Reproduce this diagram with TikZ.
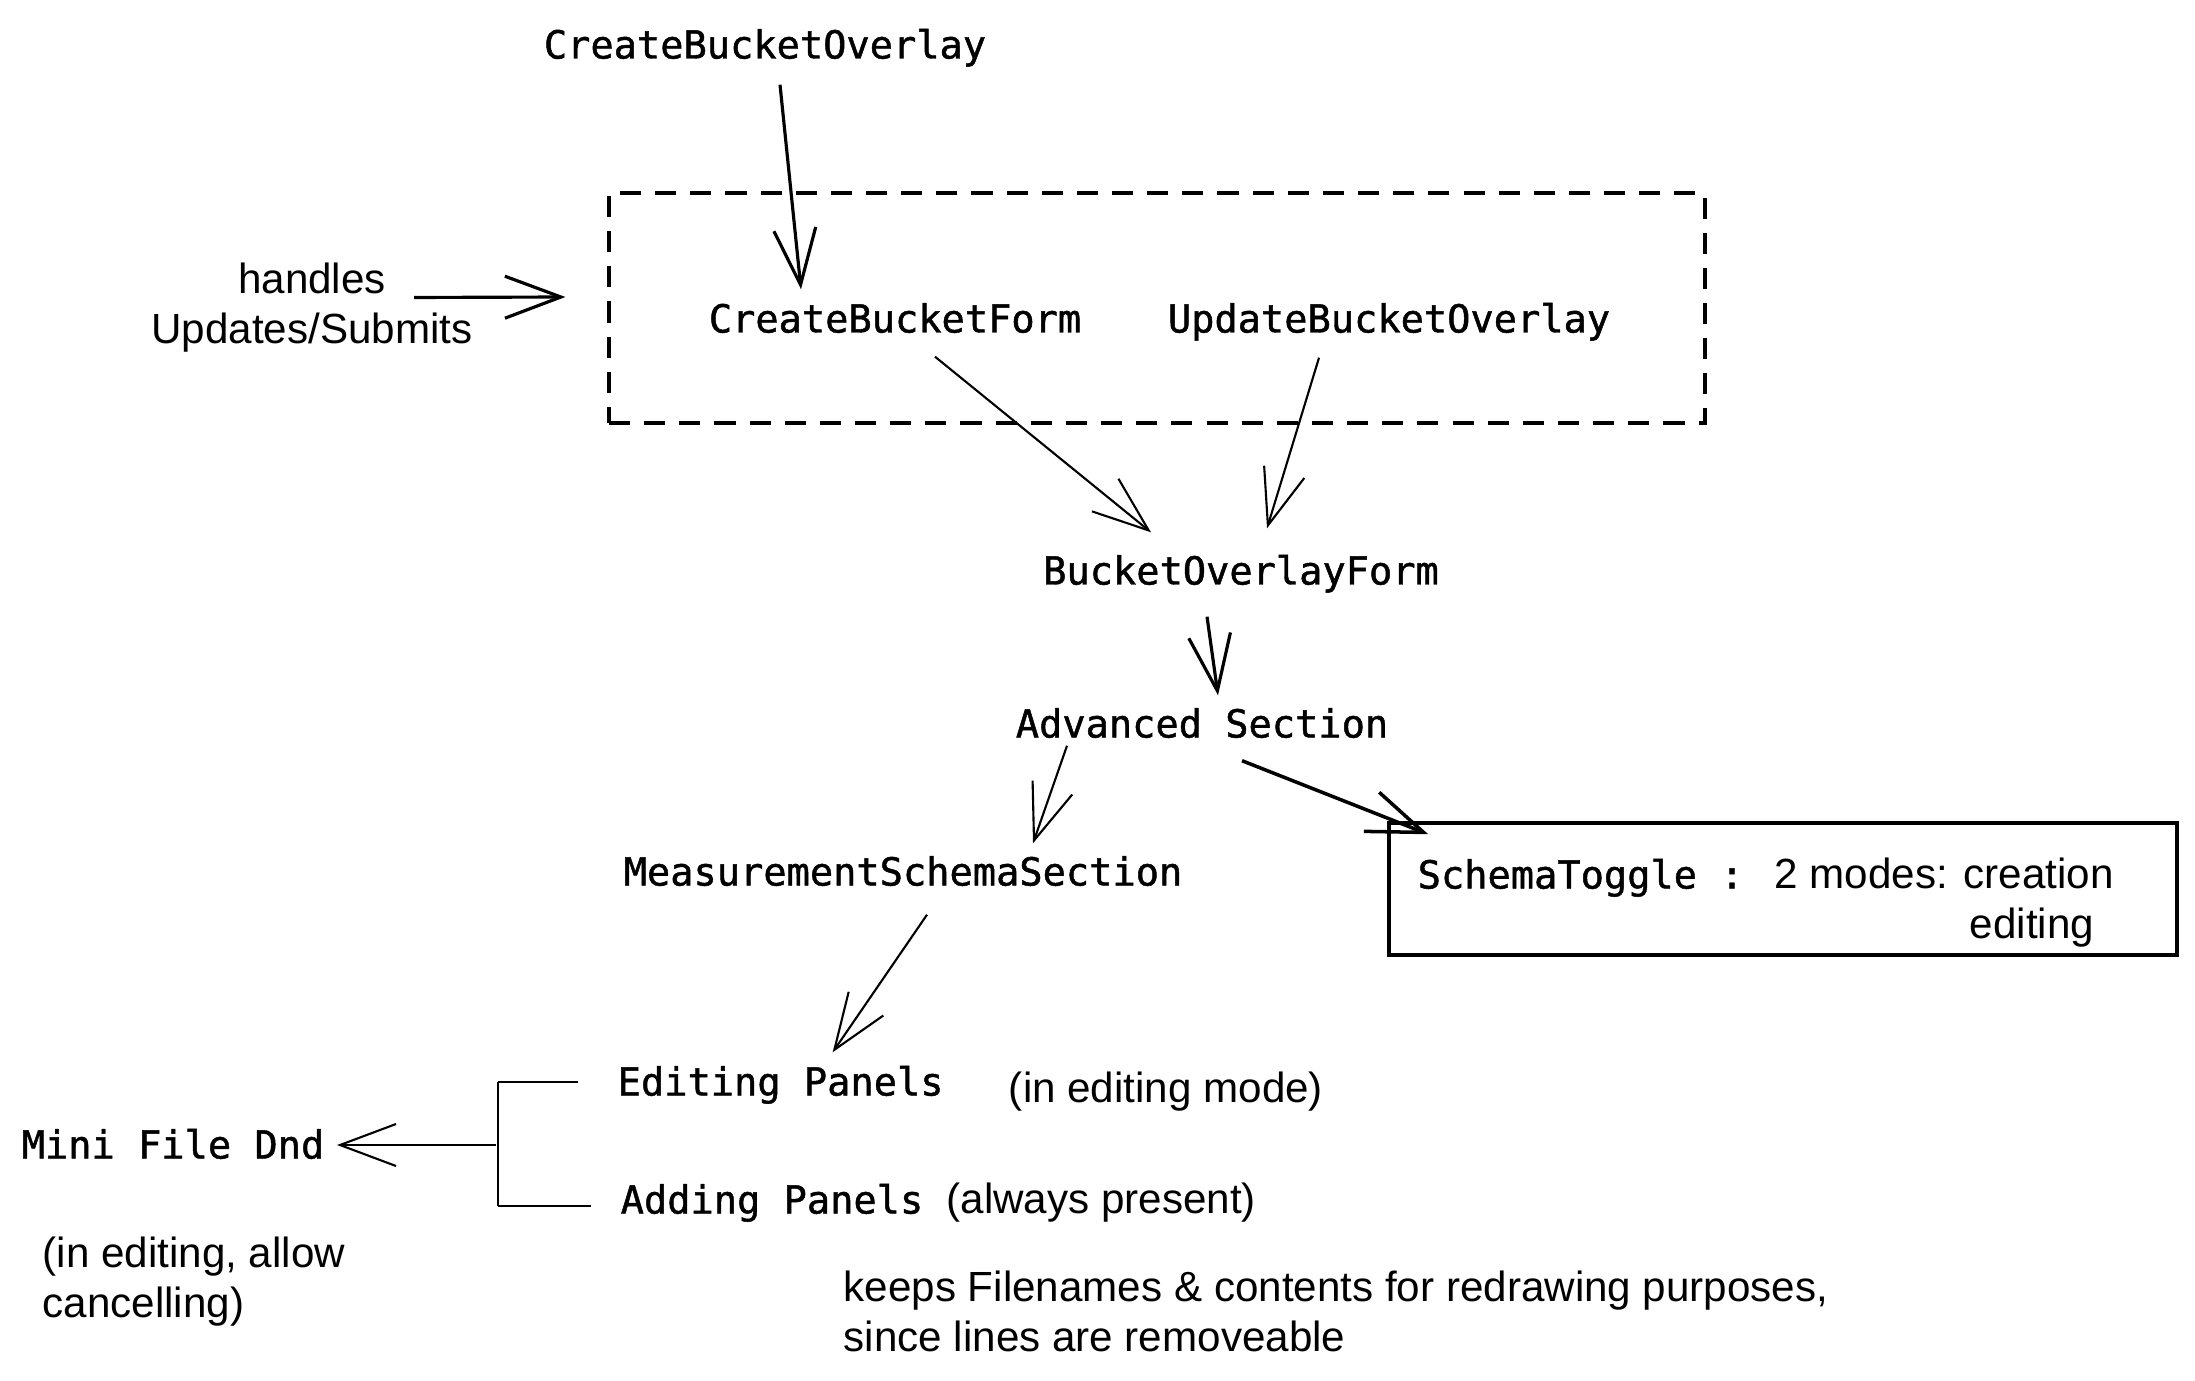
\documentclass[tikz,border=0pt]{standalone}
\usepackage{fontspec}
\usepackage{tikz}
\usetikzlibrary{arrows.meta, positioning}
\newfontfamily\codefnt{DejaVu Sans Mono}[FakeBold=1.2]
\newfontfamily\handfnt{Liberation Sans}
\newcommand{\codetxt}{\codefnt\fontsize{11pt}{13pt}\selectfont}
\newcommand{\handtxt}{\handfnt\fontsize{12pt}{14.2pt}\selectfont}

\begin{document}
\begin{tikzpicture}[
    code/.style={font=\codetxt, inner sep=0pt, text height=0.33cm, text depth=0.06cm},
    note/.style={font=\handtxt, inner sep=0pt},
    arrow/.style={-{Straight Barb[length=5.6mm, width=4.2mm]}, line width=0.6pt},
    group/.style={draw, dash pattern=on 6pt off 4pt, line width=0.9pt, minimum width=10.96cm, minimum height=2.3cm},
    togglebox/.style={draw, line width=1pt, minimum width=7.88cm, minimum height=1.32cm},
    stub/.style={line width=0.6pt}
]
    \useasboundingbox (0,0) rectangle (21.95,-13.81);

    % Overlays and forms
    \node (cbo) [code] at (7.65,-0.45) {CreateBucketOverlay};
    \node (grp) [group] at (11.57,-3.08) {};
    \node (cbf) [code] at (8.95,-3.19) {CreateBucketForm};
    \node (ubo) [code] at (13.89,-3.19) {UpdateBucketOverlay};
    \node (hdl) [note, align=center] at (3.12,-3.075) {handles\\Updates/Submits};
    \node (bof) [code] at (12.41,-5.71) {BucketOverlayForm};
    \node (adv) [code] at (12.02,-7.24) {Advanced Section};
    \node (mss) [code] at (9.03,-8.72) {MeasurementSchemaSection};

    % Schema toggle box
    \node (tog) [togglebox] at (17.83,-8.89) {};
    \node (togtxt) [code, anchor=west] at (14.17,-8.75) {SchemaToggle : \handtxt 2 modes: creation};
    \node (togedit) [note] at (20.32,-9.28) {editing};

    % Panels
    \node (edit) [code, anchor=west] at (6.17,-10.82) {Editing Panels};
    \node (editnote) [note] at (11.66,-10.92) {(in editing mode)};
    \node (add) [code, anchor=west] at (6.20,-12.00) {Adding Panels \handtxt(always present)};
    \node (mini) [code] at (1.73,-11.45) {Mini File Dnd};
    \node (mininote) [note, align=left, anchor=west] at (0.42,-12.82) {(in editing, allow\\cancelling)};
    \node (keeps) [note, align=left, anchor=west] at (8.43,-13.11) {keeps Filenames \& contents for redrawing purposes,\\since lines are removeable};

    % Bracket
    \coordinate (brt) at (4.98,-10.82);
    \coordinate (brb) at (4.98,-12.06);
    \coordinate (brm) at (4.96,-11.45);
    \draw[stub] (brt) -- (brb);
    \draw[stub] (brt) -- ([xshift=-0.39cm]edit.west);
    \draw[stub] (brb) -- ([xshift=-0.29cm,yshift=-0.06cm]add.west);

    % Connections
    \draw[arrow, line width=0.9pt] ([xshift=0.15cm,yshift=-0.195cm]cbo.south) -- ([xshift=-0.94cm,yshift=0.095cm]cbf.north);
    \draw[arrow, line width=0.9pt] ([xshift=1.02cm,yshift=0.10cm]hdl.center) -- ([xshift=-0.42cm,yshift=0.11cm]grp.west);
    \draw[arrow] ([xshift=0.40cm,yshift=-0.175cm]cbf.south) -- ([xshift=-0.90cm,yshift=0.185cm]bof.north);
    \draw[arrow] ([xshift=-0.70cm,yshift=-0.185cm]ubo.south) -- ([xshift=0.26cm,yshift=0.225cm]bof.north);
    \draw[arrow, line width=0.9pt] ([xshift=-0.34cm,yshift=-0.255cm]bof.south) -- ([xshift=0.16cm,yshift=0.085cm]adv.north);
    \draw[arrow] ([xshift=-1.35cm,yshift=-0.015cm]adv.south) -- ([xshift=1.30cm,yshift=0.085cm]mss.north);
    \draw[arrow, line width=1pt] ([xshift=0.40cm,yshift=-0.165cm]adv.south) -- ([xshift=0.41cm,yshift=-0.13cm]tog.north west);
    \draw[arrow] ([xshift=0.24cm,yshift=-0.225cm]mss.south) -- ([xshift=0.52cm,yshift=0.095cm]edit.north);
    \draw[arrow] (brm) -- ([xshift=0.12cm]mini.east);
\end{tikzpicture}
\end{document}
